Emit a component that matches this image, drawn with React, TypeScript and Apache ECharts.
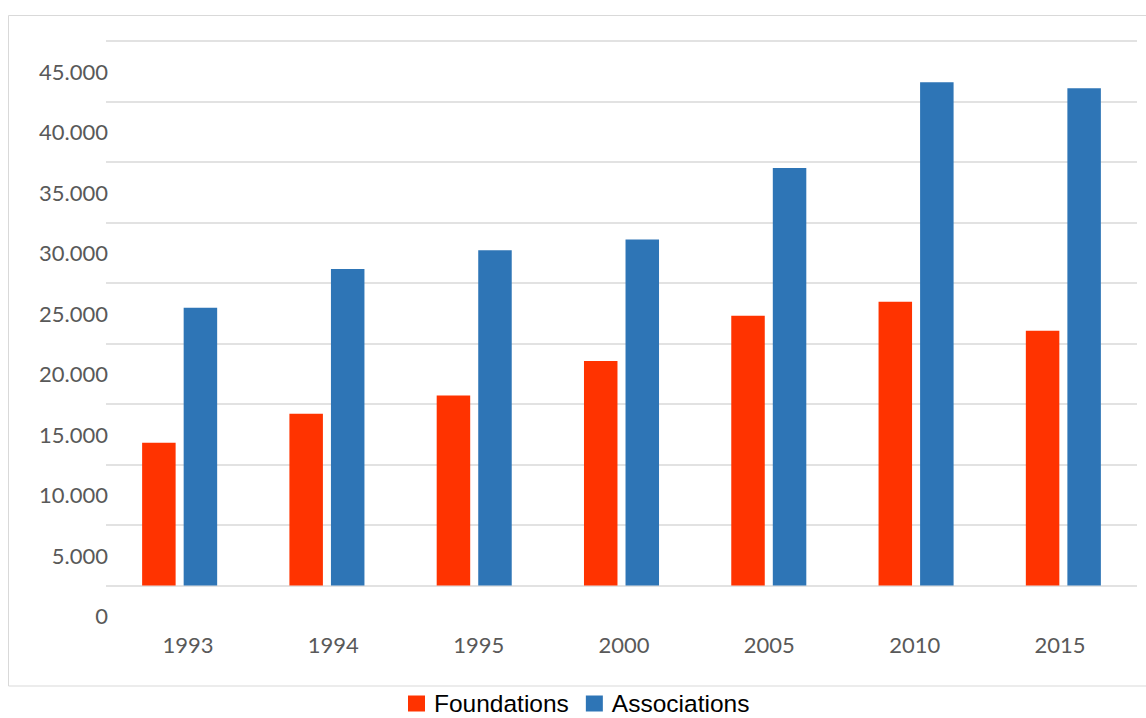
import React, { useEffect, useRef } from "react";
import * as echarts from "echarts";

const years = ["1993", "1994", "1995", "2000", "2005", "2010", "2015"];
const foundations = [11800, 14200, 15700, 18550, 22300, 23450, 21050];
const associations = [22950, 26150, 27700, 28600, 34500, 41600, 41100];
const seriesNames = ["Foundations", "Associations"];
const colors = ["#FF3300", "#2E75B6"];
const yMin = 0;
const yMax = 45000;
const yStep = 5000;

const fmt = (v: number) => String(v).replace(/\B(?=(\d{3})+(?!\d))/g, ".");

export default function App() {
  const ref = useRef<HTMLDivElement>(null);
  useEffect(() => {
    if (!ref.current) return;
    const chart = echarts.init(ref.current, null, { renderer: "svg" });
    const labelFont = "Lato, 'Open Sans', sans-serif";
    chart.setOption({
      animation: false,
      backgroundColor: "#ffffff",
      graphic: [
        {
          type: "rect",
          shape: { x: 8.5, y: 15.5, width: 1150, height: 670.5 },
          style: { fill: "none", stroke: "#d9d9d9", lineWidth: 1 },
          silent: true,
        },
      ],
      legend: {
        data: seriesNames,
        left: 408,
        top: 691,
        padding: 0,
        itemWidth: 17,
        itemHeight: 16,
        itemGap: 17,
        icon: "rect",
        textStyle: {
          fontFamily: "'Liberation Sans', Arial, sans-serif",
          fontSize: 24.5,
          lineHeight: 22,
          color: "#000000",
          padding: [0, 0, 0, 4],
        },
      },
      grid: [
        { left: 106, right: 9, top: 41, bottom: 132.5, containLabel: false },
        { left: 115.3, right: 13.3, top: 41, bottom: 132.5, containLabel: false },
      ],
      xAxis: [
        {
          type: "category",
          gridIndex: 0,
          data: years,
          axisLine: { show: false },
          axisTick: { show: false },
          axisLabel: { show: false },
          splitLine: { show: false },
        },
        {
          type: "category",
          gridIndex: 1,
          data: years,
          axisLine: { show: false },
          axisTick: { show: false },
          splitLine: { show: false },
          axisLabel: {
            margin: 48,
            color: "#595959",
            fontFamily: labelFont,
            fontSize: 22,
          },
        },
      ],
      yAxis: [
        {
          type: "value",
          gridIndex: 0,
          min: yMin,
          max: yMax,
          interval: yStep,
          axisLine: { show: false },
          axisTick: { show: false },
          splitLine: { show: true, lineStyle: { color: "#d9d9d9", width: 1.5 } },
          axisLabel: {
            margin: -2,
            color: "#595959",
            fontFamily: labelFont,
            fontSize: 22,
            verticalAlign: "top",
            lineHeight: 60,
            formatter: (v: number) => fmt(v),
          },
        },
        {
          type: "value",
          gridIndex: 1,
          min: yMin,
          max: yMax,
          show: false,
          splitLine: { show: false },
        },
      ],
      series: [
        {
          name: seriesNames[0],
          type: "bar",
          xAxisIndex: 0,
          yAxisIndex: 0,
          data: foundations,
          barWidth: 33.5,
          barGap: "24%",
          itemStyle: { color: colors[0] },
        },
        {
          name: seriesNames[1],
          type: "bar",
          xAxisIndex: 0,
          yAxisIndex: 0,
          data: associations,
          barWidth: 33.5,
          barGap: "24%",
          itemStyle: { color: colors[1] },
        },
      ],
    });
    return () => chart.dispose();
  }, []);
  return (
    <div
      ref={ref}
      style={{ position: "fixed", left: 0, top: 0, width: 1146, height: 718 }}
    />
  );
}
